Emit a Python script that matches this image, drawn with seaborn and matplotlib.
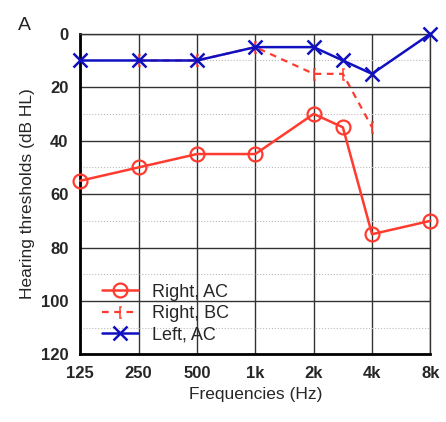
import matplotlib
matplotlib.use("Agg")
import matplotlib.pyplot as plt
import seaborn as sns
import pandas as pd
from matplotlib.ticker import MultipleLocator

sns.set_style("white")
plt.rcParams['font.family'] = ['Liberation Sans', 'DejaVu Sans']

tick_labels = ["125", "250", "500", "1k", "2k", "4k", "8k"]
freq_pos = {"125": 0, "250": 1, "500": 2, "1k": 3, "2k": 4, "3k": 4.5, "4k": 5, "8k": 6}

right_ac_f = ["125", "250", "500", "1k", "2k", "3k", "4k", "8k"]
right_ac = [55, 50, 45, 45, 30, 35, 75, 70]
right_bc_f = ["250", "500", "1k", "2k", "3k", "4k"]
right_bc = [10, 10, 5, 15, 15, 35]
left_ac_f = ["125", "250", "500", "1k", "2k", "3k", "4k", "8k"]
left_ac = [10, 10, 10, 5, 5, 10, 15, 0]

fig, ax = plt.subplots(figsize=(4.46, 4.22), dpi=100)
fig.subplots_adjust(left=0.18, right=0.965, top=0.92, bottom=0.16)

red = "#ff3b30"
blue = "#1010c0"

def df(fs, vs):
    return pd.DataFrame({"x": [freq_pos[f] for f in fs], "y": vs})

d1 = df(right_ac_f, right_ac)
d2 = df(right_bc_f, right_bc)
d3 = df(left_ac_f, left_ac)

ax.plot(d1["x"], d1["y"], color=red, lw=1.8, marker="o", markersize=10,
        markerfacecolor="none", markeredgecolor=red, markeredgewidth=1.6,
        label="Right, AC", zorder=3, clip_on=False)
ax.plot(d2["x"], d2["y"], color=red, lw=1.6, linestyle=(0, (3, 2.5)),
        marker="$[$", markersize=9, markeredgewidth=0.4,
        label="Right, BC", zorder=4, clip_on=False)
ax.plot(d3["x"], d3["y"], color=blue, lw=1.8, marker="x", markersize=10,
        markeredgewidth=1.8, label="Left, AC", zorder=5, clip_on=False)

ax.set_xlim(0, 6)
ax.set_ylim(120, 0)
ax.set_xticks(range(len(tick_labels)))
ax.set_xticklabels(tick_labels, fontsize=12, fontweight="bold")
ax.yaxis.set_major_locator(MultipleLocator(20))
ax.yaxis.set_minor_locator(MultipleLocator(10))
ax.tick_params(axis="y", labelsize=12, which="major", length=5, width=1.5)
ax.tick_params(axis="y", which="minor", length=3, width=1.5)
ax.tick_params(axis="x", length=5, width=1.5)
for lab in ax.get_yticklabels():
    lab.set_fontweight("bold")
ax.grid(True, which="major", color="#333333", lw=1.0)
ax.grid(True, which="minor", axis="y", color="#bbbbbb", lw=0.8, linestyle=":")
for s in ["left", "bottom"]:
    ax.spines[s].set_linewidth(2)
    ax.spines[s].set_color("black")
for s in ["top", "right"]:
    ax.spines[s].set_linewidth(1)
    ax.spines[s].set_color("#333333")
ax.set_xlabel("Frequencies (Hz)", fontsize=12.5)
ax.set_ylabel("Hearing thresholds (dB HL)", fontsize=12.5)
ax.legend(loc="lower left", bbox_to_anchor=(0.03, 0.0), frameon=False, fontsize=13,
          handlelength=2.0, borderaxespad=0.2, labelspacing=0.25)
fig.text(0.04, 0.93, "A", fontsize=14)
fig.savefig("out.png", dpi=100)
